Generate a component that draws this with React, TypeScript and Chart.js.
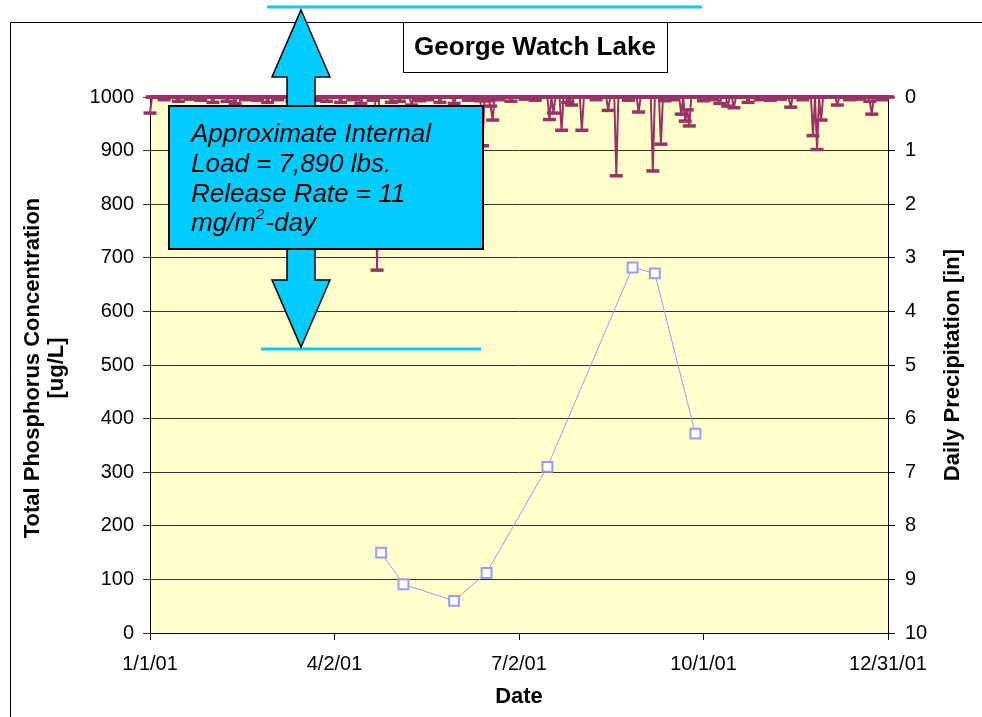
import React, { useEffect, useRef } from 'react';
import { Chart, registerables } from 'chart.js';

Chart.register(...registerables);

const FONT = '"Liberation Sans", Arial, Helvetica, sans-serif';

// X axis (day of year 2001, 0 = 1/1/01)
const xTickDays = [0, 91, 182, 273, 364];
const xTickLabels = ['1/1/01', '4/2/01', '7/2/01', '10/1/01', '12/31/01'];
const dayCount = 365;

// Total phosphorus samples (day of year, ug/L)
const phosDays = [114, 125, 150, 166, 196, 238, 249, 269];
const phosValues = [150, 91, 60, 112, 310, 682, 671, 372];

// Daily precipitation: days with rain (day of year) and amount [in]; all other days 0
const precipDays = [0, 7, 14, 20, 25, 31, 38, 42, 47, 53, 58, 63, 70, 76, 82, 87, 94, 100, 104, 110, 112, 119, 123, 129, 133, 137, 143, 150, 157, 163, 164, 167, 168, 169, 172, 178, 185, 190, 197, 199, 203, 206, 208, 213, 220, 226, 230, 236, 241, 248, 252, 254, 258, 262, 264, 265, 266, 273, 277, 281, 285, 288, 295, 301, 306, 311, 316, 322, 327, 329, 331, 339, 345, 350, 355, 356, 361];
const precipValues = [0.3, 0.05, 0.08, 0.04, 0.06, 0.1, 0.08, 0.12, 0.05, 0.06, 0.1, 0.05, 0.08, 0.1, 0.06, 0.08, 0.1, 0.05, 0.12, 0.06, 3.23, 0.1, 0.08, 0.15, 0.07, 0.05, 0.1, 0.12, 0.06, 0.07, 0.91, 0.07, 0.17, 0.43, 0.05, 0.08, 0.04, 0.06, 0.42, 0.3, 0.62, 0.1, 0.15, 0.62, 0.05, 0.25, 1.47, 0.06, 0.28, 1.38, 0.88, 0.07, 0.05, 0.32, 0.45, 0.24, 0.54, 0.07, 0.05, 0.12, 0.17, 0.2, 0.1, 0.05, 0.06, 0.04, 0.19, 0.05, 0.72, 0.98, 0.43, 0.15, 0.05, 0.04, 0.08, 0.32, 0.05];

const CYAN = '#00CCFF';

const overlayPlugin = {
  id: 'overlay',
  beforeDraw(chart: any) {
    const { ctx, chartArea: a } = chart;
    ctx.save();
    ctx.fillStyle = '#FFFFFF';
    ctx.fillRect(0, 0, chart.width, chart.height);
    ctx.fillStyle = '#FFFFCC';
    ctx.fillRect(a.left, a.top, a.right - a.left, a.bottom - a.top);
    ctx.restore();
  },
  afterDraw(chart: any) {
    const { ctx } = chart;
    ctx.save();
    // outer frame
    ctx.strokeStyle = '#000';
    ctx.lineWidth = 1;
    ctx.beginPath();
    ctx.moveTo(10.5, 717);
    ctx.lineTo(10.5, 22.5);
    ctx.lineTo(982, 22.5);
    ctx.stroke();

    // title box
    ctx.fillStyle = '#fff';
    ctx.fillRect(403, 23, 264, 50);
    ctx.strokeRect(403.5, 22.5, 264, 50);
    ctx.fillStyle = '#000';
    ctx.font = `bold 26px ${FONT}`;
    ctx.textAlign = 'center';
    ctx.textBaseline = 'middle';
    ctx.fillText('George Watch Lake', 535, 48);

    // axis titles
    ctx.font = `bold 22px ${FONT}`;
    ctx.save();
    ctx.translate(33, 368);
    ctx.rotate(-Math.PI / 2);
    ctx.fillText('Total Phosphorus Concentration', 0, 0);
    ctx.restore();
    ctx.save();
    ctx.translate(57, 368);
    ctx.rotate(-Math.PI / 2);
    ctx.fillText('[ug/L]', 0, 0);
    ctx.restore();
    ctx.save();
    ctx.translate(953, 365);
    ctx.rotate(-Math.PI / 2);
    ctx.fillText('Daily Precipitation [in]', 0, 0);
    ctx.restore();
    ctx.fillText('Date', 519, 697);

    // cyan lines
    ctx.strokeStyle = CYAN;
    ctx.lineWidth = 3;
    ctx.beginPath();
    ctx.moveTo(267, 7);
    ctx.lineTo(702, 7);
    ctx.moveTo(261, 349);
    ctx.lineTo(481, 349);
    ctx.stroke();

    // double arrow
    ctx.beginPath();
    ctx.moveTo(301, 10);
    ctx.lineTo(330, 77);
    ctx.lineTo(315, 77);
    ctx.lineTo(315, 280);
    ctx.lineTo(330, 280);
    ctx.lineTo(301, 347);
    ctx.lineTo(272, 280);
    ctx.lineTo(287, 280);
    ctx.lineTo(287, 77);
    ctx.lineTo(272, 77);
    ctx.closePath();
    ctx.fillStyle = CYAN;
    ctx.fill();
    ctx.strokeStyle = '#000';
    ctx.lineWidth = 1.5;
    ctx.stroke();

    // text box
    ctx.fillStyle = CYAN;
    ctx.fillRect(169, 106, 314, 143);
    ctx.lineWidth = 2;
    ctx.strokeRect(169, 106, 314, 143);
    ctx.fillStyle = '#000';
    ctx.textAlign = 'left';
    ctx.textBaseline = 'alphabetic';
    ctx.font = `italic 26px ${FONT}`;
    ctx.fillText('Approximate Internal', 191, 142);
    ctx.fillText('Load = 7,890 lbs.', 191, 172);
    ctx.fillText('Release Rate = 11', 191, 202);
    const part1 = 'mg/m';
    ctx.fillText(part1, 191, 231);
    const w1 = ctx.measureText(part1).width;
    ctx.font = `italic 15px ${FONT}`;
    ctx.fillText('2', 191 + w1, 219);
    const w2 = ctx.measureText('2').width;
    ctx.font = `italic 26px ${FONT}`;
    ctx.fillText('-day', 191 + w1 + w2 + 1, 231);
    ctx.restore();
  },
};

export default function App() {
  const ref = useRef<HTMLCanvasElement>(null);
  useEffect(() => {
    if (!ref.current) return;
    const daily = Array.from({ length: dayCount }, (_, d) => ({ x: d, y: 0 }));
    precipDays.forEach((d, i) => {
      daily[d].y = precipValues[i];
    });
    const phos = phosDays.map((d, i) => ({ x: d, y: phosValues[i] }));

    const chart = new Chart(ref.current, {
      type: 'line',
      data: {
        datasets: [
          {
            label: 'Total Phosphorus',
            data: phos,
            yAxisID: 'y',
            borderColor: '#9999FF',
            borderWidth: 1,
            pointStyle: 'rect',
            pointRadius: 7,
            pointBorderWidth: 2,
            pointBackgroundColor: '#FFFFFF',
            pointBorderColor: '#9999FF',
            tension: 0,
          },
          {
            label: 'Daily Precipitation',
            data: daily,
            yAxisID: 'y2',
            borderColor: '#993366',
            borderWidth: 2,
            borderJoinStyle: 'round',
            pointStyle: 'line',
            pointRadius: 6.5,
            pointBorderWidth: 3.5,
            pointBorderColor: '#993366',
            pointBackgroundColor: '#993366',
            tension: 0,
            clip: false as any,
          },
        ],
      },
      options: {
        responsive: false,
        animation: false,
        devicePixelRatio: 1,
        layout: { padding: { top: 97, left: 0, right: 0, bottom: 0 } },
        plugins: { legend: { display: false }, tooltip: { enabled: false }, title: { display: false } },
        scales: {
          x: {
            type: 'linear',
            position: 'bottom',
            min: 0,
            max: 364,
            afterBuildTicks: (s: any) => {
              s.ticks = xTickDays.map((v) => ({ value: v }));
            },
            afterFit: (s: any) => {
              s.height = 84;
            },
            ticks: {
              autoSkip: false,
              maxRotation: 0,
              padding: 12,
              color: '#000',
              font: { family: FONT, size: 20 },
              callback: (v: any) => {
                const i = xTickDays.indexOf(Number(v));
                return i >= 0 ? xTickLabels[i] : '';
              },
            },
            grid: { drawOnChartArea: false, drawTicks: true, tickLength: 7, color: '#000' },
            border: { display: true, color: '#000', width: 1 },
          },
          y: {
            position: 'left',
            min: 0,
            max: 1000,
            afterFit: (s: any) => {
              s.width = 150;
            },
            ticks: {
              stepSize: 100,
              padding: 9,
              color: '#000',
              font: { family: FONT, size: 20 },
              callback: (v: any) => String(v),
            },
            grid: { color: '#333', tickLength: 7, lineWidth: 1 },
            border: { display: true, color: '#000', width: 1 },
          },
          y2: {
            position: 'right',
            min: 0,
            max: 10,
            reverse: true,
            afterFit: (s: any) => {
              s.width = 94;
            },
            ticks: {
              stepSize: 1,
              padding: 10,
              color: '#000',
              font: { family: FONT, size: 20 },
              callback: (v: any) => String(v),
            },
            grid: { drawOnChartArea: false, tickLength: 7, color: '#000' },
            border: { display: true, color: '#000', width: 1 },
          },
        },
      },
      plugins: [overlayPlugin],
    });
    return () => chart.destroy();
  }, []);

  return (
    <div style={{ position: 'absolute', left: 0, top: 0, width: 982, height: 717, background: '#fff' }}>
      <canvas ref={ref} width={982} height={717} style={{ display: 'block', width: 982, height: 717 }} />
    </div>
  );
}
